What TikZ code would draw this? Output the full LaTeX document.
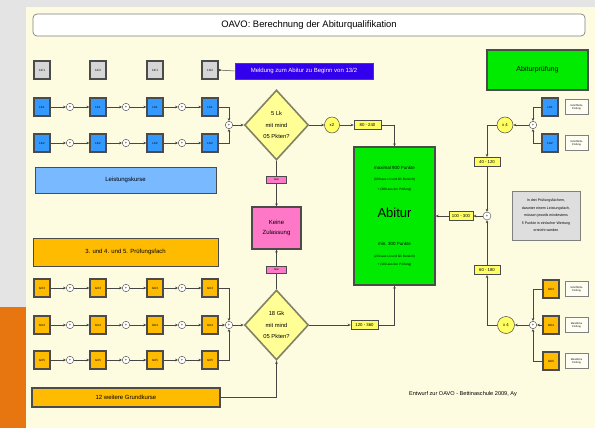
\documentclass[tikz,border=0pt]{standalone}
\usepackage{fontspec}
\setmainfont{Liberation Sans}
\usetikzlibrary{arrows.meta,shapes.geometric}
\definecolor{cream}{RGB}{254,252,224}
\definecolor{slidegray}{RGB}{228,228,228}
\definecolor{slideorange}{RGB}{232,118,16}
\definecolor{lkblue}{RGB}{51,153,255}
\definecolor{gkorange}{RGB}{255,187,0}
\definecolor{semgray}{RGB}{214,214,214}
\definecolor{bordergray}{RGB}{75,75,75}
\definecolor{meldblue}{RGB}{51,0,238}
\definecolor{abigreen}{RGB}{0,235,0}
\definecolor{lbblue}{RGB}{120,185,255}
\definecolor{diayellow}{RGB}{255,255,150}
\definecolor{diaborder}{RGB}{130,130,100}
\definecolor{valyellow}{RGB}{255,255,100}
\definecolor{kzpink}{RGB}{255,120,200}
\definecolor{linegray}{RGB}{70,70,70}
\newcommand\myfs[2]{\fontsize{#1}{#2}\selectfont}
\tikzset{
  smallbox/.style={draw=bordergray, line width=1.3pt, minimum width=16pt, minimum height=18pt, inner sep=0pt, font=\myfs{3}{3.5}},
  lkbox/.style={smallbox, fill=lkblue},
  gkbox/.style={smallbox, fill=gkorange},
  sembox/.style={smallbox, fill=semgray},
  plus/.style={circle, draw=linegray, fill=white, line width=0.4pt, minimum size=7.5pt, inner sep=0pt, font=\myfs{4}{4}},
  val/.style={draw=bordergray, line width=0.6pt, fill=valyellow, minimum width=27pt, minimum height=9.5pt, inner sep=0pt, font=\myfs{4.3}{4.5}},
  mul/.style={ellipse, draw=bordergray, line width=0.5pt, fill=valyellow, minimum width=15pt, minimum height=16pt, inner sep=0pt, font=\myfs{4.3}{4.5}},
  conn/.style={draw=linegray, line width=0.5pt, -{Stealth[length=3pt,width=2.6pt]}},
  plainconn/.style={draw=linegray, line width=0.5pt},
  dia/.style={diamond, draw=diaborder, fill=diayellow, line width=1.6pt, minimum width=64pt, minimum height=70pt, inner sep=0pt, align=center, font=\myfs{5.8}{11.5}},
  bar/.style={draw=bordergray, line width=0.9pt, inner sep=0pt, font=\myfs{6}{7}},
  nein/.style={draw=bordergray, line width=0.5pt, fill=kzpink, minimum width=20pt, minimum height=7pt, inner sep=0pt, font=\myfs{2.6}{3}},
  lab/.style={draw=gray, line width=0.4pt, fill=white!60!cream, minimum width=23pt, minimum height=15pt, inner sep=0pt, align=center, font=\myfs{2.5}{3.2}},
  txt/.style={inner sep=0pt, font=\myfs{3.2}{4}}
}
\begin{document}
\begin{tikzpicture}[x=1pt,y=-1pt]
\useasboundingbox (0,0) rectangle (595,428);
\fill[slidegray] (0,0) rectangle (595,428);
\fill[cream] (26,7) rectangle (595,428);
\fill[slideorange] (0,307) rectangle (26,428);

% title
\node[draw=gray, line width=0.7pt, fill=white, rounded corners=4pt, minimum width=552pt, minimum height=22pt, inner sep=0pt, font=\myfs{9.4}{10}] (title) at (309,25) {OAVO: Berechnung der Abiturqualifikation};

% semesters
\node[sembox] (s1) at (42,70) {12/1};
\node[sembox] (s2) at (98,70) {12/2};
\node[sembox] (s3) at (155,70) {13/1};
\node[sembox] (s4) at (210,70) {13/2};
\node[draw=bordergray, line width=0.6pt, fill=meldblue, text=white, minimum width=138pt, minimum height=16pt, inner sep=0pt, font=\myfs{6}{6.5}] (meld) at (304,71) {Meldung zum Abitur zu Beginn von 13/2};
\draw[plainconn, {Circle[length=2.2pt]}-] (s4.east) -- (meld.west);

% course rows
\foreach \r/\y/\st/\t in {a/107/lkbox/LK1, b/143/lkbox/LK2, g/288/gkbox/GK3, h/325/gkbox/GK4, k/360/gkbox/GK5} {
  \foreach \i/\x in {1/42,2/98,3/155,4/210} {\node[\st] (\r\i) at (\x,\y) {\t};}
  \foreach \i/\x in {1/70,2/126,3/182} {\node[plus] (p\r\i) at (\x,\y) {+};}
  \foreach \i/\j in {1/2,2/3,3/4} {\draw[conn] (\r\i) -- (p\r\i); \draw[conn] (p\r\i) -- (\r\j);}
}

% bars
\node[bar, fill=lbblue, minimum width=181pt, minimum height=26pt] (lkbar) at (125.5,180) {Leistungskurse};
\node[bar, fill=gkorange, minimum width=185pt, minimum height=28pt] (pfbar) at (125.5,252) {3. und 4. und 5. Prüfungsfach};
\node[bar, fill=gkorange, line width=1.2pt, minimum width=188pt, minimum height=19pt] (gkbar) at (126,397.5) {12 weitere Grundkurse};

% merges and diamonds
\node[plus] (m1) at (229,125) {+};
\node[plus] (m2) at (229,325) {+};
\node[dia] (d1) at (276.5,125) {5 Lk\\mit mind\\05 Pkten?};
\node[dia] (d2) at (276.5,325) {18 Gk\\mit mind\\05 Pkten?};
\draw[conn] (a4.east) -| (m1.north);
\draw[conn] (b4.east) -| (m1.south);
\draw[conn] (m1) -- (d1.west);
\draw[conn] (g4.east) -| (m2.north);
\draw[conn] (h4) -- (m2);
\draw[conn] (k4.east) -| (m2.south);
\draw[conn] (m2) -- (d2.west);
\draw[conn] (gkbar.east) -| (d2.south);

% keine zulassung
\node[nein] (n1) at (276.5,180) {Nein};
\node[nein] (n2) at (276.5,270) {Nein};
\node[draw=bordergray, line width=1.3pt, fill=kzpink, minimum width=49pt, minimum height=42pt, inner sep=0pt, align=center, font=\myfs{6}{10}] (kz) at (276.5,228) {Keine\\Zulassung};
\draw[plainconn] (d1.south) -- (n1.north);
\draw[conn] (n1.south) -- (kz.north);
\draw[plainconn] (d2.north) -- (n2.south);
\draw[conn] (n2.north) -- (kz.south);

% Abitur
\node[draw=bordergray, line width=1.3pt, fill=abigreen, minimum width=81pt, minimum height=138pt, inner sep=0pt] (abi) at (394.5,216) {};
\node[txt, font=\myfs{4.5}{5}] (t1) at (394.5,168) {maximal 900 Punkte};
\node[txt] (t2) at (394.5,179.5) {(600 aus Lk und Gk Bereich)};
\node[txt] (t3) at (394.5,190) {+ (300 aus der Prüfung)};
\node[txt, font=\myfs{13}{14}] (t4) at (394.5,213) {Abitur};
\node[txt, font=\myfs{4.5}{5}] (t5) at (394.5,244) {min. 300 Punkte};
\node[txt] (t6) at (394.5,257) {(200 aus Lk und Gk Bereich)};
\node[txt] (t7) at (394.5,264.5) {+ (100 aus der Prüfung)};

\node[mul] (x2) at (332,125) {x2};
\node[val] (v1) at (367.5,125) {80 - 240};
\draw[conn] (d1.east) -- (x2);
\draw[conn] (x2) -- (v1);
\draw[conn] (v1.east) -| (abi.north);
\node[val] (v2) at (364.5,325) {120 - 360};
\draw[conn] (d2.east) -- (v2);
\draw[conn] (v2.east) -| (abi.south);

% Abiturpruefung
\node[draw=bordergray, line width=1.3pt, fill=abigreen, minimum width=101pt, minimum height=40pt, inner sep=0pt, font=\myfs{7}{8}] (ap) at (537.5,70) {Abiturprüfung};

\node[lkbox] (sk1) at (550,107) {LK1};
\node[lkbox] (sk2) at (550,143) {LK2};
\node[gkbox] (sk3) at (551,289) {GK3};
\node[gkbox] (sk4) at (551,325) {GK4};
\node[gkbox] (sk5) at (551,361) {GK5};
\node[lab] (l1) at (576.5,107) {Schriftliche\\Prüfung};
\node[lab] (l2) at (576.5,143) {Schriftliche\\Prüfung};
\node[lab] (l3) at (576.5,289) {Schriftliche\\Prüfung};
\node[lab] (l4) at (576.5,325) {Mündliche\\Prüfung};
\node[lab] (l5) at (576.5,361) {Mündliche\\Prüfung};

\node[plus] (r1) at (533,125) {+};
\node[plus] (r2) at (533,325) {+};
\node[plus, minimum size=8pt] (r3) at (487,216) {+};
\node[mul, minimum width=16pt, minimum height=16pt] (x4a) at (505,125) {x 4};
\node[mul, minimum width=17pt, minimum height=17pt] (x4b) at (506,325) {x 4};
\node[val, minimum width=26pt] (v3) at (487,162) {40 - 120};
\node[val, minimum width=26pt] (v4) at (487,270) {60 - 180};
\node[val, minimum width=24pt] (v5) at (461,216) {100 - 300};

\draw[conn] (sk1.west) -| (r1.north);
\draw[conn] (sk2.west) -| (r1.south);
\draw[conn] (r1) -- (x4a);
\draw[conn] (x4a.west) -| (v3.north);
\draw[conn] (v3) -- (r3.north);
\draw[conn] (sk3.west) -| (r2.north);
\draw[conn] (sk4) -- (r2);
\draw[conn] (sk5.west) -| (r2.south);
\draw[conn] (r2) -- (x4b);
\draw[conn] (x4b.west) -| (v4.south);
\draw[conn] (v4) -- (r3.south);
\draw[conn] (r3) -- (v5);
\draw[conn] (v5) -- (abi.east);

\node[draw=gray, line width=0.6pt, fill=semgray!80!white, minimum width=68pt, minimum height=49pt, inner sep=0pt, align=center, font=\myfs{3.6}{7.5}] (info) at (546,215.5) {In drei Prüfungsfächern,\\darunter einem Leistungsfach,\\müssen jeweils mindestens\\5 Punkte in einfacher Wertung\\erreicht werden};

\node[inner sep=0pt, font=\myfs{5.6}{6}] (foot) at (463,394) {Entwurf zur OAVO - Bettinaschule 2009, Ay};
\end{tikzpicture}
\end{document}
